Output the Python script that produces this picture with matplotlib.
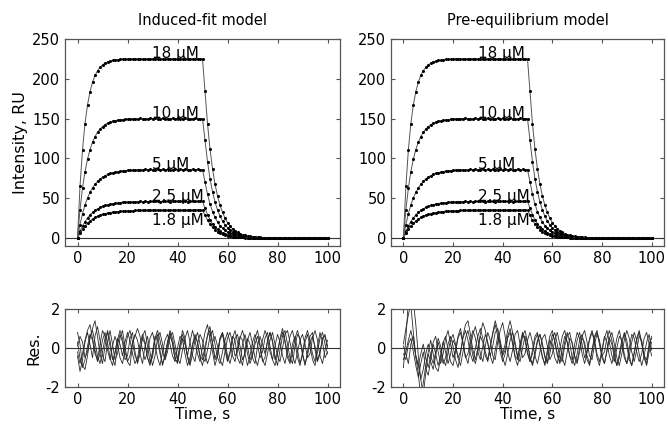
import numpy as np
import matplotlib.pyplot as plt

plt.rcParams['font.family'] = ['DejaVu Sans']
plt.rcParams['axes.unicode_minus'] = False

# sensorgram data, one point per second (0..100 s)
time = np.arange(0, 101, 1)

conc_labels = ['18 \u00b5M', '10 \u00b5M', '5 \u00b5M', '2.5 \u00b5M', '1.8 \u00b5M']
label_y = [226, 151, 87, 47, 32]
label_va = ['baseline', 'baseline', 'baseline', 'baseline', 'top']

resp_18 = [0, 64.8, 110.9, 143.8, 167.2, 183.8, 195.8, 204.2, 210.2, 214.4,
           217.5, 219.6, 221.2, 222.3, 223.1, 223.6, 224.0, 224.3, 224.5, 224.6,
           224.8, 225.3, 224.6, 225.1, 224.9, 225.4, 224.7, 225.0, 225.2, 224.6,
           225.1, 224.8, 225.5, 224.9, 225.0, 224.7, 225.3, 225.1, 224.8, 225.2,
           224.9, 225.4, 224.6, 225.0, 225.2, 224.8, 225.1, 224.9, 225.3, 225.0,
           225.0, 184.5, 143.8, 111.8, 87.1, 68.0, 52.9, 41.2, 32.2, 25.0,
           19.5, 15.2, 11.8, 9.2, 7.2, 5.6, 4.3, 3.4, 2.6, 2.0,
           1.6, 1.2, 1.0, 0.8, 0.6, 0.5, 0.3, 0.4, 0.2, 0.3,
           0.1, 0.2, 0.0, 0.3, -0.1, 0.2, 0.1, -0.2, 0.2, 0.0,
           0.1, -0.1, 0.2, 0.0, -0.2, 0.1, 0.0, 0.2, -0.1, 0.0,
           0.1]
resp_10 = [0, 35.6, 62.6, 83.3, 99.0, 111.2, 120.3, 127.4, 132.8, 136.8,
           140.0, 142.4, 144.2, 145.5, 146.6, 147.4, 148.0, 148.5, 148.8, 149.1,
           149.3, 149.8, 149.2, 150.1, 149.6, 150.3, 149.7, 150.0, 149.5, 150.2,
           149.8, 150.4, 149.6, 150.0, 150.3, 149.7, 150.1, 149.9, 150.4, 149.8,
           150.2, 149.6, 150.0, 150.3, 149.8, 150.1, 149.7, 150.2, 149.9, 150.0,
           150.0, 123.0, 95.9, 74.6, 58.1, 45.3, 35.3, 27.5, 21.5, 16.7,
           13.0, 10.1, 7.9, 6.1, 4.8, 3.7, 2.9, 2.3, 1.8, 1.4,
           1.1, 0.8, 0.6, 0.5, 0.4, 0.3, 0.2, 0.3, 0.1, 0.2,
           0.0, 0.2, -0.1, 0.1, 0.2, -0.1, 0.0, 0.1, -0.2, 0.1,
           0.0, 0.2, -0.1, 0.1, 0.0, -0.2, 0.1, 0.0, 0.1, -0.1,
           0.0]
resp_5 = [0, 17.0, 30.6, 41.5, 50.3, 57.4, 63.0, 67.6, 71.2, 74.1,
          76.5, 78.3, 79.9, 81.1, 82.0, 82.8, 83.4, 83.9, 84.4, 84.7,
          85.0, 85.2, 85.3, 85.5, 85.6, 85.9, 85.5, 86.1, 85.8, 86.2,
          85.7, 86.0, 86.3, 85.8, 86.1, 85.9, 86.2, 85.7, 86.0, 86.3,
          85.8, 86.1, 85.9, 86.2, 85.8, 86.0, 86.3, 85.9, 86.1, 86.0,
          86.0, 70.5, 55.0, 42.7, 33.3, 26.0, 20.2, 15.7, 12.3, 9.5,
          7.4, 5.8, 4.5, 3.5, 2.7, 2.1, 1.7, 1.3, 1.0, 0.8,
          0.6, 0.5, 0.4, 0.3, 0.2, 0.3, 0.1, 0.2, 0.0, 0.1,
          0.2, -0.1, 0.1, 0.0, 0.2, 0.1, -0.1, 0.0, 0.2, -0.1,
          0.1, 0.0, -0.2, 0.1, 0.0, 0.2, -0.1, 0.1, 0.0, 0.1,
          -0.1]
resp_2_5 = [0, 8.3, 15.2, 20.7, 25.3, 29.1, 32.2, 34.6, 36.7, 38.4,
            39.8, 40.9, 41.8, 42.6, 43.2, 43.7, 44.1, 44.5, 44.8, 45.0,
            45.2, 45.4, 45.5, 45.6, 45.6, 45.9, 45.7, 46.1, 45.8, 46.2,
            45.9, 46.0, 46.3, 45.8, 46.1, 46.0, 46.2, 45.8, 46.1, 46.0,
            46.2, 45.9, 46.1, 46.0, 45.8, 46.2, 46.0, 46.1, 45.9, 46.0,
            46.0, 37.7, 29.4, 22.9, 17.8, 13.9, 10.8, 8.4, 6.6, 5.1,
            4.0, 3.1, 2.4, 1.9, 1.5, 1.1, 0.9, 0.7, 0.5, 0.4,
            0.3, 0.2, 0.3, 0.1, 0.2, 0.0, 0.1, 0.2, -0.1, 0.1,
            0.0, 0.1, 0.2, -0.1, 0.0, 0.1, 0.2, 0.0, -0.1, 0.1,
            0.2, 0.0, 0.1, -0.1, 0.0, 0.1, 0.2, -0.1, 0.0, 0.1,
            0.0]
resp_1_8 = [0, 6.1, 11.1, 15.2, 18.6, 21.5, 23.8, 25.8, 27.3, 28.7,
            29.8, 30.7, 31.4, 32.0, 32.6, 33.0, 33.3, 33.6, 33.8, 34.1,
            34.2, 34.3, 34.5, 34.6, 34.6, 34.9, 34.7, 35.1, 34.8, 35.2,
            34.9, 35.0, 35.2, 34.8, 35.1, 35.0, 34.9, 35.2, 35.0, 34.8,
            35.1, 35.0, 35.2, 34.9, 35.0, 35.1, 34.8, 35.2, 35.0, 35.0,
            35.0, 28.7, 22.4, 17.4, 13.5, 10.6, 8.2, 6.4, 5.0, 3.9,
            3.0, 2.4, 1.8, 1.4, 1.1, 0.9, 0.7, 0.5, 0.4, 0.3,
            0.2, 0.3, 0.1, 0.2, 0.0, 0.1, 0.2, -0.1, 0.1, 0.0,
            0.1, 0.0, 0.2, -0.1, 0.1, 0.0, -0.1, 0.1, 0.2, 0.0,
            -0.1, 0.1, 0.0, 0.2, -0.1, 0.0, 0.1, 0.0, -0.1, 0.1,
            0.0]
responses = [resp_18, resp_10, resp_5, resp_2_5, resp_1_8]

# residuals, one point per second
res_fit = [
    [0.8, 0.2, -0.9, -1.1, -0.4, 0.5, 1.0, 1.4, 0.6, -0.3,
     -0.8, 0.1, 0.9, 0.4, -0.5, -0.9, 0.2, 0.7, 0.3, -0.6,
     -0.4, 0.5, 0.8, -0.2, -0.8, -0.3, 0.6, 0.9, 0.1, -0.7,
     -0.5, 0.4, 0.7, -0.1, -0.9, -0.4, 0.3, 0.8, 0.2, -0.6,
     -0.7, 0.2, 0.9, 0.5, -0.4, -0.8, 0.1, 0.6, 0.3, -0.5,
     -0.9, -0.2, 0.7, 1.1, 0.3, -0.6, -0.4, 0.5, 0.8, -0.1,
     -0.7, -0.3, 0.6, 0.4, -0.5, -0.8, 0.2, 0.7, 0.1, -0.6,
     -0.3, 0.5, 0.9, 0.2, -0.7, -0.5, 0.3, 0.8, 0.4, -0.4,
     -0.9, -0.1, 0.6, 0.9, 0.2, -0.5, -0.8, 0.1, 0.7, 0.5,
     -0.3, -0.9, -0.2, 0.6, 0.8, -0.1, -0.7, -0.3, 0.5, 0.6,
     0.1],
    [-0.4, -1.2, -0.6, 0.3, 0.8, 0.2, -0.5, 0.6, 1.1, 0.4,
     -0.4, -0.7, 0.3, 0.9, 0.2, -0.6, -0.3, 0.5, 0.9, 0.1,
     -0.7, -0.9, 0.2, 0.7, 0.4, -0.3, -0.8, 0.1, 0.6, -0.2,
     -0.9, -0.4, 0.5, 0.8, 0.2, -0.6, -0.2, 0.6, 0.3, -0.5,
     -0.8, -0.1, 0.5, 0.2, -0.4, 0.3, 0.9, 0.4, -0.3, -0.7,
     0.1, 0.8, 1.2, 0.5, -0.2, -0.9, -0.4, 0.4, 0.7, 0.1,
     -0.6, -0.2, 0.5, 0.9, 0.3, -0.4, -0.9, -0.1, 0.5, 0.2,
     -0.5, -0.8, 0.1, 0.6, 0.2, -0.3, 0.4, 0.8, 0.3, -0.6,
     -0.2, 0.5, 1.0, 0.4, -0.3, -0.7, 0.2, 0.6, -0.1, -0.8,
     -0.4, 0.3, 0.7, 0.1, -0.6, -0.9, -0.2, 0.5, 0.8, 0.2,
     -0.3],
    [0.1, 0.6, 0.3, -0.5, -0.2, 0.6, 0.9, 0.3, -0.4, -0.8,
     -0.2, 0.5, 0.8, 0.1, -0.6, -0.3, 0.4, 0.9, 0.5, -0.2,
     -0.7, -0.4, 0.3, 0.6, 1.0, 0.6, -0.1, -0.6, -0.2, 0.5,
     0.8, 0.2, -0.5, -0.9, -0.2, 0.4, 0.7, 0.2, -0.4, -0.7,
     0.0, 0.6, 0.4, -0.3, -0.9, -0.5, 0.2, 0.7, 0.3, -0.4,
     -0.6, 0.1, 0.6, 0.9, 0.2, -0.5, -0.2, 0.5, 0.8, 0.3,
     -0.4, -0.8, -0.2, 0.5, 0.7, 0.1, -0.6, -0.3, 0.4, 0.8,
     0.2, -0.5, -0.9, -0.3, 0.4, 0.9, 0.5, -0.2, -0.6, 0.1,
     0.7, 0.3, -0.4, -0.8, -0.1, 0.6, 0.9, 0.3, -0.5, -0.9,
     -0.2, 0.5, 0.9, 0.4, -0.3, -0.7, 0.1, 0.8, 0.3, -0.5,
     -0.2],
    [-0.2, -0.8, -0.3, 0.4, 0.9, 1.2, 0.5, -0.1, -0.7, -0.3,
     0.4, 0.8, 0.3, -0.5, -0.9, -0.2, 0.5, 0.2, -0.4, 0.3,
     0.8, 0.4, -0.3, -0.8, -0.5, 0.2, 0.7, 0.3, -0.5, -0.9,
     -0.3, 0.5, 0.9, 0.4, -0.2, -0.6, 0.1, 0.6, 0.8, 0.2,
     -0.5, -0.8, -0.1, 0.5, 0.9, 0.3, -0.4, -0.7, 0.2, 0.7,
     0.4, -0.3, -0.8, -0.4, 0.3, 0.6, 0.1, -0.6, -0.9, -0.2,
     0.5, 0.8, 0.3, -0.4, -0.2, 0.5, 0.9, 0.4, -0.3, -0.8,
     -0.4, 0.2, 0.6, 0.1, -0.6, -0.9, -0.3, 0.4, 0.8, 0.2,
     -0.4, -0.7, 0.0, 0.7, 0.9, 0.3, -0.4, -0.8, -0.2, 0.4,
     0.7, 0.2, -0.5, -0.3, 0.5, 0.9, 0.4, -0.4, -0.8, -0.1,
     0.4],
    [0.3, -0.5, -1.0, -0.6, 0.1, 0.7, 0.4, -0.3, -0.6, 0.2,
     0.9, 0.6, -0.1, -0.6, 0.1, 0.6, 0.2, -0.5, -0.8, -0.1,
     0.6, 0.9, 0.3, -0.4, -0.7, -0.1, 0.5, 0.2, -0.5, -0.8,
     -0.2, 0.6, 0.4, -0.3, -0.8, -0.4, 0.3, 0.9, 0.5, -0.2,
     -0.6, 0.1, 0.7, 0.3, -0.5, -0.9, -0.3, 0.4, 0.8, 0.2,
     -0.4, -0.7, -0.1, 0.6, 0.9, 0.2, -0.5, -0.8, -0.2, 0.4,
     0.8, 0.3, -0.4, -0.7, 0.0, 0.6, 0.4, -0.3, -0.9, -0.4,
     0.3, 0.7, 0.2, -0.5, -0.2, 0.5, 0.8, 0.1, -0.6, -0.9,
     -0.3, 0.4, 0.8, 0.3, -0.5, -0.8, -0.2, 0.5, 0.9, 0.4,
     -0.3, -0.8, -0.4, 0.3, 0.6, 0.1, -0.6, -0.2, 0.5, 0.7,
     0.0],
]

res_pre = [
    [-1.0, 0.5, 2.4, 2.2, 0.8, -0.4, -0.9, -0.3, 0.2, -0.5,
     -1.0, -0.4, 0.3, 0.6, -0.2, -0.8, -0.3, 0.5, 0.9, 0.2,
     -0.5, -0.1, 0.6, 1.0, 0.3, -0.4, -0.8, 0.0, 0.7, 1.1,
     0.5, -0.3, -0.7, 0.1, 0.8, 0.4, -0.4, -0.6, 0.3, 0.9,
     1.3, 0.6, -0.2, -0.7, -0.1, 0.7, 0.9, 0.2, -0.5, -0.3,
     0.4, 0.8, 0.3, -0.4, -0.8, -0.2, 0.5, 0.7, 0.1, -0.6,
     -0.3, 0.4, 0.8, 0.2, -0.5, -0.9, -0.2, 0.5, 0.3, -0.4,
     -0.7, 0.0, 0.6, 0.9, 0.3, -0.4, -0.6, 0.2, 0.7, 0.4,
     -0.3, -0.8, -0.2, 0.5, 0.8, 0.2, -0.5, -0.9, -0.3, 0.4,
     0.9, 0.5, -0.2, -0.7, -0.1, 0.6, 0.4, -0.4, -0.8, 0.1,
     0.6],
    [0.2, 1.0, 1.7, 2.3, 2.4, 1.2, -0.4, -1.6, -2.4, -1.3,
     -0.3, -0.7, -1.1, -0.4, 0.3, -0.2, -0.8, -0.5, 0.2, 0.6,
     0.1, -0.6, -1.0, -0.3, 0.6, 1.2, 1.4, 0.7, -0.1, -0.6,
     0.0, 0.7, 1.3, 0.9, 0.2, -0.4, 0.1, 0.8, 1.0, 0.4,
     -0.3, 0.2, 0.9, 1.4, 0.8, 0.1, -0.5, 0.2, 0.8, 0.5,
     -0.2, -0.7, -0.3, 0.4, 0.7, 0.1, -0.5, -0.8, -0.1, 0.6,
     0.9, 0.3, -0.4, -0.7, 0.0, 0.6, 0.3, -0.4, -0.8, -0.3,
     0.4, 0.8, 0.2, -0.5, -0.2, 0.5, 0.9, 0.4, -0.3, -0.7,
     -0.1, 0.6, 0.3, -0.4, -0.8, -0.2, 0.5, 0.9, 0.3, -0.5,
     -0.8, 0.0, 0.7, 0.5, -0.2, -0.7, -0.3, 0.5, 0.8, 0.2,
     -0.4],
    [-0.3, -0.6, 0.2, 0.5, -0.2, -0.9, -1.5, -0.8, -0.2, -1.1,
     -1.4, -0.6, 0.2, -0.3, -0.9, -0.4, 0.3, -0.2, -0.8, -0.3,
     0.4, 0.1, -0.5, -0.9, -0.2, 0.5, 0.9, 0.3, -0.4, -0.8,
     -0.2, 0.6, 0.3, -0.4, -0.7, 0.1, 0.7, 1.2, 0.6, -0.2,
     -0.7, -0.3, 0.5, 0.8, 0.2, -0.5, -0.9, -0.2, 0.6, 0.9,
     0.3, -0.5, -0.8, -0.2, 0.4, 0.7, 0.2, -0.5, -0.7, 0.1,
     0.7, 0.4, -0.3, -0.8, -0.4, 0.3, 0.8, 0.3, -0.5, -0.9,
     -0.3, 0.4, 0.7, 0.1, -0.6, -0.9, -0.2, 0.5, 0.8, 0.2,
     -0.4, -0.2, 0.5, 0.9, 0.4, -0.3, -0.9, -0.5, 0.2, 0.8,
     0.4, -0.4, -0.9, -0.3, 0.4, 0.8, 0.2, -0.5, -0.9, -0.2,
     0.3],
    [0.1, -0.3, -0.8, 0.2, 0.6, -0.5, -1.3, -2.6, -1.8, -0.9,
     -0.2, 0.4, -0.3, -1.0, -1.2, -0.5, 0.3, 0.6, -0.1, -0.7,
     -0.9, -0.2, 0.5, 0.8, 0.2, -0.5, -0.3, 0.4, 0.9, 0.5,
     -0.2, -0.6, 0.1, 0.7, 0.3, -0.4, -0.8, -0.1, 0.6, 0.2,
     -0.5, -0.9, -0.3, 0.4, 0.8, 0.3, -0.4, -0.7, 0.0, 0.6,
     0.3, -0.5, -0.9, -0.4, 0.3, 0.7, 0.2, -0.4, -0.8, -0.3,
     0.4, 0.8, 0.2, -0.5, -0.7, 0.1, 0.6, 0.8, 0.2, -0.5,
     -0.8, -0.2, 0.5, 0.3, -0.4, -0.8, -0.1, 0.6, 0.9, 0.3,
     -0.5, -0.8, -0.1, 0.5, 0.2, -0.5, -0.9, -0.3, 0.4, 0.7,
     0.1, -0.6, -0.9, -0.2, 0.5, 0.9, 0.3, -0.4, -0.6, 0.2,
     0.5],
    [-0.6, -0.2, 0.4, 0.9, 0.3, -0.4, -0.9, -1.6, -1.1, -0.3,
     0.2, -0.4, -0.8, -0.2, 0.5, 0.1, -0.6, -0.9, -0.2, 0.4,
     0.7, 0.2, -0.5, -0.2, 0.5, 0.9, 0.4, -0.3, -0.7, 0.0,
     0.6, 1.0, 0.5, -0.2, -0.6, 0.1, 0.8, 1.4, 0.9, 0.2,
     -0.4, -0.1, 0.6, 1.0, 0.3, -0.4, -0.6, 0.1, 0.7, 0.4,
     -0.3, -0.7, -0.1, 0.6, 0.8, 0.2, -0.4, -0.9, -0.3, 0.4,
     0.2, -0.5, -0.8, -0.1, 0.6, 0.9, 0.3, -0.4, -0.6, 0.2,
     0.8, 0.5, -0.3, -0.8, -0.2, 0.4, 0.8, 0.3, -0.5, -0.9,
     -0.2, 0.5, 0.9, 0.3, -0.4, -0.7, 0.0, 0.6, 0.4, -0.3,
     -0.8, -0.4, 0.3, 0.8, 0.4, -0.3, -0.9, -0.4, 0.3, 0.7,
     -0.1],
]

titles = ['Induced-fit model', 'Pre-equilibrium model']
residuals = [res_fit, res_pre]

fig = plt.figure(figsize=(6.68, 4.25), dpi=100)
W, H = 668.0, 425.0
top_boxes = [(65, 340, 39, 246), (391, 664, 39, 246)]
bot_boxes = [(65, 340, 309, 387), (391, 664, 309, 387)]

spine_col = '#555555'


def style(ax):
    ax.tick_params(direction='in', top=True, right=True, length=3,
                   labelsize=10.5, labelcolor='black', color=spine_col, width=0.8)
    for s in ax.spines.values():
        s.set_color(spine_col)
        s.set_linewidth(0.9)


for i in range(2):
    l, r, t, b = top_boxes[i]
    ax = fig.add_axes([l / W, 1 - b / H, (r - l) / W, (b - t) / H])
    ax.axhline(0, color='#333333', lw=0.8)
    for j, resp in enumerate(responses):
        ax.plot(time, resp, color='#555555', lw=0.7)
        ax.plot(time, resp, ls='none', marker='o', ms=1.2, color='black')
        ax.text(30, label_y[j], conc_labels[j], fontsize=11, ha='left',
                va=label_va[j])
    ax.set_xlim(-5, 105)
    ax.set_ylim(-10, 250)
    ax.set_xticks([0, 20, 40, 60, 80, 100])
    ax.set_yticks([0, 50, 100, 150, 200, 250])
    ax.set_title(titles[i], fontsize=10.5, pad=10)
    if i == 0:
        ax.set_ylabel('Intensity, RU', fontsize=11.5, labelpad=3)
    style(ax)

    l, r, t, b = bot_boxes[i]
    ax2 = fig.add_axes([l / W, 1 - b / H, (r - l) / W, (b - t) / H])
    ax2.axhline(0, color='#333333', lw=0.8)
    for res in residuals[i]:
        ax2.plot(time, res, color='#2a2a2a', lw=0.6)
    ax2.set_xlim(-5, 105)
    ax2.set_ylim(-2, 2)
    ax2.set_xticks([0, 20, 40, 60, 80, 100])
    ax2.set_yticks([-2, 0, 2])
    ax2.set_xlabel('Time, s', fontsize=11, labelpad=0)
    if i == 0:
        ax2.set_ylabel('Res.', fontsize=11.5, labelpad=3)
    style(ax2)

fig.savefig('out.png', dpi=100)
